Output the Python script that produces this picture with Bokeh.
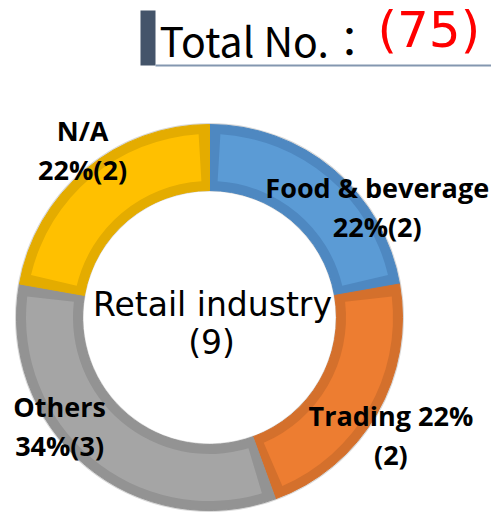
import numpy as np
from bokeh.plotting import figure
from bokeh.models import Range1d, ColumnDataSource
from bokeh.core.properties import value
from bokeh.embed import file_html
from bokeh.resources import INLINE

# ---- data ----
categories = ["Food & beverage", "Trading", "Others", "N/A"]
counts = [2, 2, 3, 2]
percent_labels = ["22%", "22%", "34%", "22%"]
total_no = 75
center_title = "Retail industry"

# ---- style ----
fill_colors = ["#5B9BD5", "#ED7D31", "#A5A5A5", "#FFC000"]
edge_colors = ["#4E88C1", "#D4702C", "#939393", "#E4AC00"]
line1_templates = ["{c}", "{c} {p}", "{c}", "{c}"]
line2_templates = ["{p}({n})", "({n})", "{p}({n})", "{p}({n})"]
label_radius = [200, 217, 186, 209]
label_angle_shift_deg = [17, 3.3, 13.7, 2.6]

W, H = 491, 519
p = figure(width=W, height=H, x_range=Range1d(0, W), y_range=Range1d(0, H),
           output_backend="svg", toolbar_location=None, min_border=0)
p.axis.visible = False
p.grid.visible = False
p.outline_line_color = None
p.background_fill_color = "white"

cx, cy = 209, 519 - 317
R_out, R_in, band = 193, 127, 9.5

total = sum(counts)
cum = np.concatenate([[0], np.cumsum(counts)])
start = np.pi / 2 - cum[:-1] / total * 2 * np.pi
end = np.pi / 2 - cum[1:] / total * 2 * np.pi
inset = band / ((R_out + R_in) / 2)

src = ColumnDataSource(dict(start=start, end=end, s2=start - inset, e2=end + inset,
                            fill=fill_colors, edge=edge_colors))
# soft light outline around the ring
p.annular_wedge(x=cx, y=cy, inner_radius=R_in - 1, outer_radius=R_out + 1.5,
                inner_radius_units="screen", outer_radius_units="screen",
                start_angle=0, end_angle=2 * np.pi, fill_color="#D9D9D9", line_color=None)
p.annular_wedge(x=cx, y=cy, inner_radius=R_in, outer_radius=R_out,
                inner_radius_units="screen", outer_radius_units="screen",
                start_angle="start", end_angle="end", direction="clock",
                fill_color="edge", line_color="edge", line_width=1, source=src)
p.annular_wedge(x=cx, y=cy, inner_radius=R_in + band, outer_radius=R_out - band,
                inner_radius_units="screen", outer_radius_units="screen",
                start_angle="s2", end_angle="e2", direction="clock",
                fill_color="fill", line_color=None, source=src)

# slice labels
mid_deg = (cum[:-1] + cum[1:]) / 2 / total * 360
lx, ly, t1, t2 = [], [], [], []
for i, c in enumerate(categories):
    a = np.deg2rad(mid_deg[i] + label_angle_shift_deg[i])
    lx.append(cx + label_radius[i] * np.sin(a))
    ly.append(cy + 1 + label_radius[i] * np.cos(a))
    t1.append(line1_templates[i].format(c=c, p=percent_labels[i], n=counts[i]))
    t2.append(line2_templates[i].format(c=c, p=percent_labels[i], n=counts[i]))
lab = dict(text_align="center", text_baseline="middle", text_font=value("Open Sans"),
           text_font_style="bold", text_font_size="27px", text_color="black")
p.text(x=lx, y=ly, text=t1, y_offset=-20, **lab)
p.text(x=lx, y=ly, text=t2, y_offset=19, **lab)

# center text
ctr = dict(text_align="center", text_baseline="middle", text_font=value("DejaVu Sans"),
           text_font_size="33px", text_color="black")
p.text(x=[cx + 3], y=[cy], text=[center_title], y_offset=-13, **ctr)
p.text(x=[cx + 2], y=[cy], text=[f"({total})"], y_offset=25, **ctr)

# header
p.quad(left=[140], right=[155], top=[519 - 10], bottom=[519 - 65], fill_color="#44546A", line_color=None)
p.segment(x0=[155], y0=[519 - 65], x1=[491], y1=[519 - 65], line_color="#8497B0", line_width=2)
p.text(x=[159], y=[519 - 38], text=["Total No.："], text_align="left", text_baseline="middle",
       text_font=value("Noto Sans CJK JP"), text_font_size="41px", text_color="black")
p.text(x=[377], y=[519 - 29], text=[f"({total_no})"], text_align="left", text_baseline="middle",
       text_font=value("DejaVu Sans"), text_font_size="50px", text_color="#FF0000")

open("out.html", "w").write(file_html(p, INLINE))
